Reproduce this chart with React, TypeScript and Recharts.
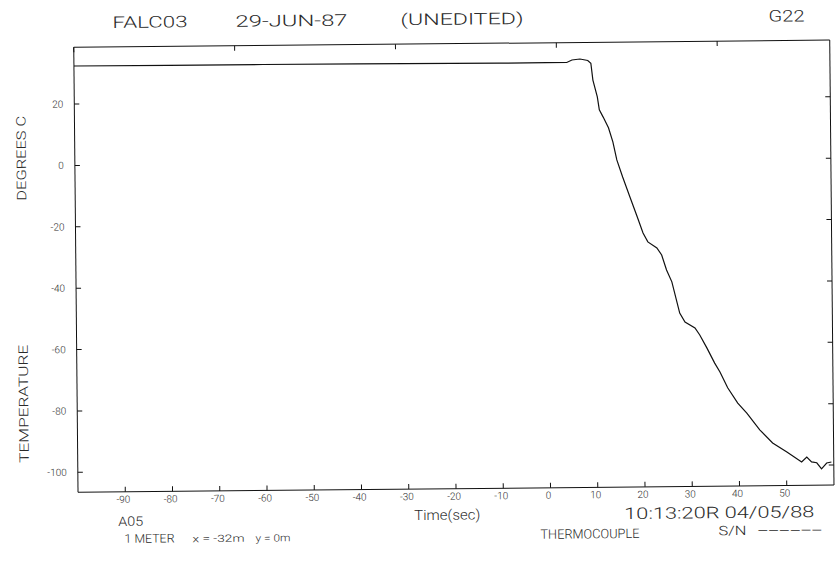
import { LineChart, Line, XAxis, YAxis } from "recharts";

// time (s) and temperature (deg C)
const times = [
  -100, -80, -60, -40, -20, -10, 0, 4.3, 5.4, 7.1, 8.75, 9.4, 9.8, 10.7, 11.1,
  11.9, 13.0, 13.9, 14.7, 15.9, 17.4, 18.9, 20.1, 21.1, 23.0, 24.0, 25.0, 26.1,
  27.7, 28.8, 30.9, 31.9, 33.4, 35.0, 36.1, 37.7, 39.8, 41.7, 44.4, 47.1, 50.1,
  53.2, 54.3, 55.3, 56.4, 57.4, 58.5, 59.5,
];
const temps = [
  32.4, 32.3, 32.3, 32.2, 32.1, 32.0, 32.0, 32.0, 32.8, 33.1, 32.6, 31.7, 26.2,
  20.7, 16.5, 14.1, 10.6, 6.0, 0.1, -5.5, -12.0, -18.5, -23.8, -26.7, -28.7,
  -31.0, -35.9, -39.8, -50.0, -52.9, -54.9, -57.2, -61.5, -66.4, -69.3, -74.5,
  -79.5, -82.8, -88.3, -92.6, -95.6, -98.9, -97.3, -98.9, -99.2, -101.2, -99.3,
  -99.0,
];

const xTicks = [-90, -80, -70, -60, -50, -40, -30, -20, -10, 0, 10, 20, 30, 40, 50];
const yTicks = [20, 0, -20, -40, -60, -80, -100];

const data = times.map((t, i) => ({ t, temp: temps[i] }));

const FONT = "Roboto, 'Liberation Sans', sans-serif";
const INK = "#2a2a2a";
const TICK = 5;

// inward tick marks, like the plotter draws them
const BottomTick = (p: any) => (
  <g>
    <line x1={p.x} x2={p.x} y1={p.y} y2={p.y - TICK} stroke="#111" />
    <text
      x={p.x - 2}
      y={p.y + 11}
      textAnchor="middle"
      fontSize={10}
      fontFamily={FONT}
      fontWeight={300}
      fill={INK}
    >
      {p.payload.value}
    </text>
  </g>
);
const TopTick = (p: any) => (
  <line x1={p.x} x2={p.x} y1={p.y} y2={p.y + TICK} stroke="#111" />
);
const LeftTick = (p: any) => (
  <g>
    <line x1={p.x} x2={p.x + TICK} y1={p.y} y2={p.y} stroke="#111" />
    <text
      x={p.x - 11}
      y={p.y + 3.5}
      textAnchor="end"
      fontSize={10}
      fontFamily={FONT}
      fontWeight={300}
      fill={INK}
    >
      {p.payload.value}
    </text>
  </g>
);
const RightTick = (p: any) => (
  <line x1={p.x} x2={p.x - TICK} y1={p.y} y2={p.y} stroke="#111" />
);

// plotter style text, stretched to the measured width
function T({
  x,
  y,
  w,
  size,
  children,
  rotate,
}: {
  x: number;
  y: number;
  w: number;
  size: number;
  children: string;
  rotate?: boolean;
}) {
  return (
    <text
      x={x}
      y={y}
      fontSize={size}
      fontFamily={FONT}
      fontWeight={300}
      fill={INK}
      textLength={w}
      lengthAdjust="spacingAndGlyphs"
      transform={rotate ? `rotate(-90 ${x} ${y})` : undefined}
    >
      {children}
    </text>
  );
}

export default function App() {
  return (
    <div
      style={{
        position: "absolute",
        left: 0,
        top: 0,
        width: 836,
        height: 561,
        transform: "rotate(-0.55deg)",
        transformOrigin: "418px 280px",
      }}
    >
      <LineChart
        width={836}
        height={561}
        data={data}
        margin={{ top: 34, right: 0, bottom: 42, left: 36 }}
      >
        <XAxis
          xAxisId="b"
          dataKey="t"
          type="number"
          domain={[-100, 60]}
          allowDataOverflow
          ticks={xTicks}
          interval={0}
          height={30}
          stroke="#111"
          tickLine={false}
          tickSize={0}
          tickMargin={0}
          tick={BottomTick}
        />
        <XAxis
          xAxisId="top"
          orientation="top"
          type="number"
          domain={[-100, 60]}
          allowDataOverflow
          ticks={xTicks}
          interval={0}
          height={10}
          stroke="#111"
          tickLine={false}
          tickSize={0}
          tickMargin={0}
          tick={TopTick}
        />
        <YAxis
          yAxisId="l"
          type="number"
          domain={[-106.5, 38.5]}
          allowDataOverflow
          ticks={yTicks}
          interval={0}
          width={40}
          stroke="#111"
          tickLine={false}
          tickSize={0}
          tickMargin={0}
          tick={LeftTick}
        />
        <YAxis
          yAxisId="r"
          orientation="right"
          type="number"
          domain={[-106.5, 38.5]}
          allowDataOverflow
          ticks={yTicks}
          interval={0}
          width={4}
          stroke="#111"
          tickLine={false}
          tickSize={0}
          tickMargin={0}
          tick={RightTick}
        />
        <Line
          xAxisId="b"
          yAxisId="l"
          type="linear"
          dataKey="temp"
          stroke="#111"
          strokeWidth={1.2}
          dot={false}
          isAnimationActive={false}
        />
      </LineChart>
      <svg
        width={836}
        height={561}
        style={{ position: "absolute", left: 0, top: 0, pointerEvents: "none" }}
      >
        <T x={115} y={25} w={75} size={16}>FALC03</T>
        <T x={238} y={25} w={112} size={16}>29-JUN-87</T>
        <T x={403} y={25} w={123} size={16}>(UNEDITED)</T>
        <T x={771} y={25} w={36} size={16}>G22</T>

        <T x={27} y={197} w={85} size={13} rotate>DEGREES C</T>
        <T x={27} y={459} w={118} size={13} rotate>TEMPERATURE</T>

        <T x={116} y={523} w={25} size={13}>A05</T>
        <T x={412} y={520} w={66} size={14}>Time(sec)</T>
        <T x={622} y={521} w={190} size={16}>10:13:20R 04/05/88</T>

        <T x={122} y={540} w={50} size={12}>1 METER</T>
        <T x={190} y={540} w={52} size={10}>x = -32m</T>
        <T x={253} y={540} w={35} size={10}>y = 0m</T>
        <T x={538} y={540} w={99} size={13}>THERMOCOUPLE</T>
        <T x={716} y={538} w={28} size={13}>S/N</T>
        <T x={755} y={538} w={65} size={13}>------</T>
      </svg>
    </div>
  );
}
